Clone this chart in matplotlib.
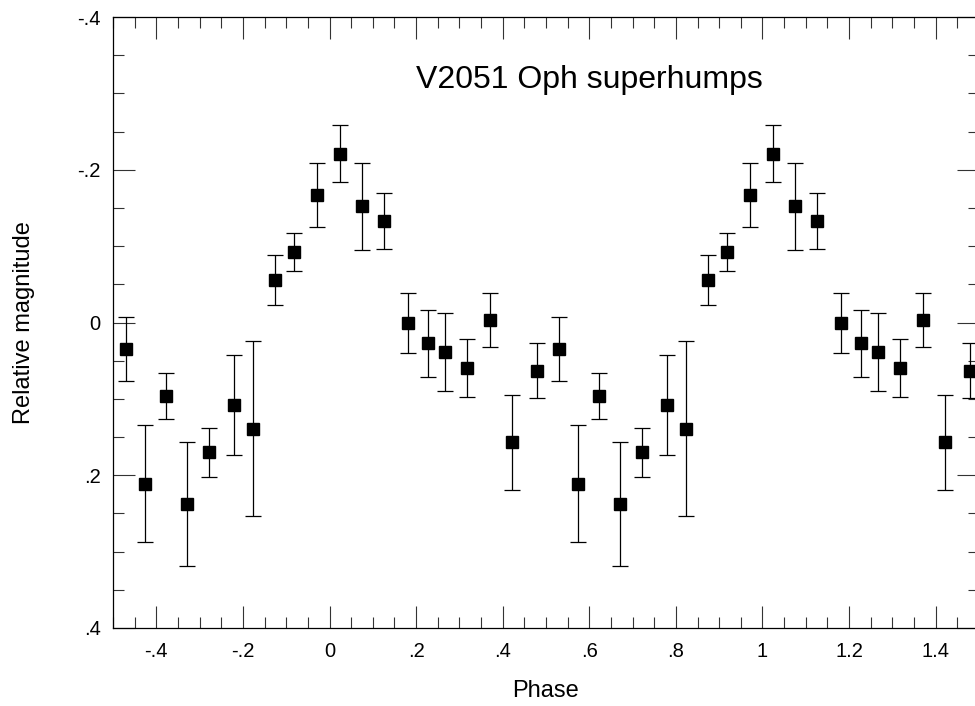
import matplotlib
matplotlib.use('Agg')
import matplotlib.pyplot as plt
import matplotlib.ticker as ticker
import numpy as np

plt.rcParams['font.family'] = ['Liberation Sans', 'DejaVu Sans']

# one superhump cycle, folded; drawn twice (phase and phase + 1)
phase = [-0.470, -0.425, -0.378, -0.329, -0.278, -0.221, -0.177,
         -0.127, -0.082, -0.029, 0.024, 0.075, 0.125, 0.181,
         0.227, 0.266, 0.317, 0.370, 0.422, 0.479]
mag = [0.035, 0.211, 0.096, 0.238, 0.170, 0.108, 0.139,
       -0.056, -0.092, -0.167, -0.221, -0.152, -0.133, 0.001,
       0.027, 0.039, 0.060, -0.003, 0.157, 0.063]
err = [0.042, 0.077, 0.030, 0.081, 0.032, 0.066, 0.115,
       0.033, 0.025, 0.042, 0.037, 0.057, 0.037, 0.039,
       0.044, 0.051, 0.038, 0.035, 0.062, 0.036]
cycles = [0, 1]


def short_label(v, pos):
    s = '%g' % round(v, 3)
    if s == '-0':
        s = '0'
    s = s.replace('0.', '.')
    return s


fig = plt.figure(figsize=(9.75, 7.06), dpi=100)
ax = fig.add_axes([0.1159, 0.1105, 0.8882, 0.8654])

for c in cycles:
    x = np.array(phase) + c
    ax.errorbar(x, mag, yerr=err, fmt='s', color='black', ms=8.6,
                ecolor='black', elinewidth=0.9, capsize=6.1, capthick=0.9)

ax.set_xlim(-0.5, 1.5)
ax.set_ylim(0.4, -0.4)

ax.xaxis.set_major_locator(ticker.MultipleLocator(0.2))
ax.xaxis.set_minor_locator(ticker.MultipleLocator(0.05))
ax.yaxis.set_major_locator(ticker.MultipleLocator(0.2))
ax.yaxis.set_minor_locator(ticker.MultipleLocator(0.05))
ax.xaxis.set_major_formatter(ticker.FuncFormatter(short_label))
ax.yaxis.set_major_formatter(ticker.FuncFormatter(short_label))

ax.tick_params(which='both', direction='in', top=True, right=True,
               width=0.8, color='#333333')
ax.tick_params(which='major', length=16, labelsize=14.5)
ax.tick_params(which='minor', length=8)
ax.tick_params(axis='x', which='major', pad=10)
ax.tick_params(axis='y', which='major', pad=9)
for sp in ax.spines.values():
    sp.set_linewidth(0.9)

ax.set_xlabel('Phase', fontsize=17, labelpad=14)
ax.set_ylabel('Relative magnitude', fontsize=17, labelpad=30)
ax.text(0.550, 0.897, 'V2051 Oph superhumps', transform=ax.transAxes,
        fontsize=23, ha='center', va='center')

fig.savefig('out.png', dpi=100)
